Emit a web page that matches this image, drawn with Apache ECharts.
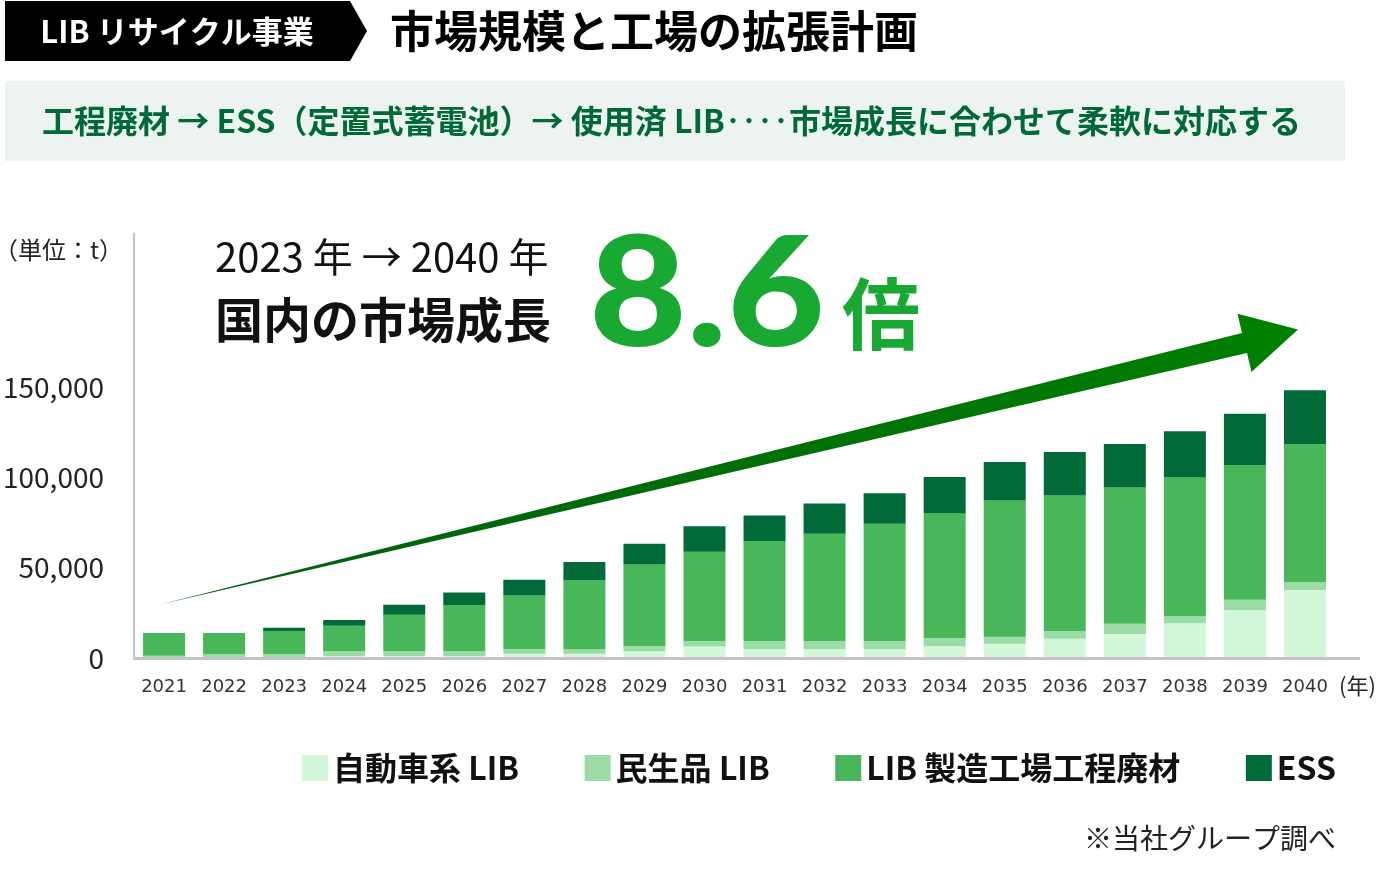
<!DOCTYPE html>
<html><head><meta charset="utf-8">
<script src="https://cdn.jsdelivr.net/npm/echarts@6/dist/echarts.min.js"></script>
<style>html,body{margin:0;padding:0;background:#fff}#c{width:1379px;height:894px}</style>
</head><body><div id="c"></div>
<script>
const years = ['2021','2022','2023','2024','2025','2026','2027','2028','2029','2030','2031','2032','2033','2034','2035','2036','2037','2038','2039','2040'];
const autoLIB = [0,0,0,1100,1100,1100,2400,2400,3700,6300,5000,5000,5000,6500,7900,10700,13300,19300,26500,37600];
const consumerLIB = [1200,2200,2200,2800,2800,2800,2600,2400,2800,3100,4400,4400,4400,4400,3900,4300,5700,3900,5700,4400];
const factoryScrap = [12700,11700,12800,13900,20000,25400,29600,38300,45300,49400,55400,59400,65000,69100,75400,75000,75400,76800,74600,76300];
const ess = [0,0,1700,3200,5600,7000,8700,10000,11500,14100,14100,16800,16800,20200,21300,24100,24100,25600,28500,30000];
const seriesNames = ['自動車系 LIB','民生品 LIB','LIB 製造工場工程廃材','ESS'];
const yTicks = [0,50000,100000,150000];

const FONT = '"Noto Sans CJK JP","Noto Sans",sans-serif';
const colors = ['#d3f7d9','#9bdca6','#47b75a','#006a39'];
const chart = echarts.init(document.getElementById('c'));
const mk = (name, data, i) => ({
  name, type:'bar', stack:'t', data, barWidth:42,
  itemStyle:{color:colors[i]}
});
chart.setOption({
  animation:false,
  grid:{left:133, right:44, top:233.6, bottom:236, containLabel:false},
  legend:{
    left:302, top:752, itemWidth:26, itemHeight:26, itemGap:65.5, icon:'rect', padding:0,
    textStyle:{fontFamily:FONT, fontSize:32, fontWeight:'bold', color:'#111'},
    data:seriesNames
  },
  xAxis:{
    type:'category', data:years,
    axisLine:{show:false}, axisTick:{show:false},
    axisLabel:{fontFamily:'"DejaVu Sans",sans-serif', fontSize:18, color:'#333', margin:20}
  },
  yAxis:{
    type:'value', min:0, max:235000, interval:50000,
    axisLine:{show:true, lineStyle:{color:'#c4c4c4', width:2}},
    axisTick:{show:false}, splitLine:{show:false},
    axisLabel:{fontFamily:FONT, fontSize:28, color:'#222', margin:30, padding:[0,0,8,0],
      formatter:v => yTicks.includes(v) ? v.toLocaleString('en-US') : ''}
  },
  series:[mk(seriesNames[0],autoLIB,0), mk(seriesNames[1],consumerLIB,1), mk(seriesNames[2],factoryScrap,2), mk(seriesNames[3],ess,3)],
  graphic:[
    {type:'line', shape:{x1:133, y1:658.5, x2:1360, y2:658.5}, style:{stroke:'#c4c4c4', lineWidth:3}, z:10},
    {type:'polygon', shape:{points:[[5,1],[350,1],[367,31],[350,61],[5,61]]}, style:{fill:'#000'}},
    {type:'text', x:177, y:31, style:{text:'LIB リサイクル事業', fill:'#fff', font:'bold 31px '+FONT, textAlign:'center', textVerticalAlign:'middle'}},
    {type:'text', x:390, y:31, style:{text:'市場規模と工場の拡張計画', fill:'#000', font:'bold 44px '+FONT, textAlign:'left', textVerticalAlign:'middle'}},
    {type:'rect', shape:{x:5, y:81, width:1340, height:80}, style:{fill:'#edf3f0'}},
    {type:'text', x:42, y:121, style:{text:'工程廃材 → ESS（定置式蓄電池）→ 使用済 LIB‥‥市場成長に合わせて柔軟に対応する', fill:'#006a37', font:'bold 32px '+FONT, textAlign:'left', textVerticalAlign:'middle'}},
    {type:'text', x:-6, y:250, style:{text:'（単位：t）', fill:'#222', font:'24px '+FONT, textAlign:'left', textVerticalAlign:'middle'}},
    {type:'text', x:215, y:257, style:{text:'2023 年 → 2040 年', fill:'#111', font:'40px '+FONT, textAlign:'left', textVerticalAlign:'middle'}},
    {type:'text', x:215, y:320, style:{text:'国内の市場成長', fill:'#111', font:'bold 48px '+FONT, textAlign:'left', textVerticalAlign:'middle'}},
    {type:'text', x:589, y:297, scaleX:1.11, style:{text:'8.6', fill:'#19a832', font:'900 152px Lato,"Noto Sans",sans-serif', textAlign:'left', textVerticalAlign:'middle'}},
    {type:'text', x:842, y:314, style:{text:'倍', fill:'#19a832', font:'bold 78px '+FONT, textAlign:'left', textVerticalAlign:'middle'}},
    {type:'polygon', shape:{points:[[160,604.5],[1242,333],[1237.5,313.7],[1298,329.5],[1251.5,372.1],[1247,353]]},
      style:{fill:{type:'linear', x:0, y:0, x2:1, y2:0, global:false, colorStops:[{offset:0,color:'#005c10'},{offset:1,color:'#008000'}]}}},
    {type:'text', x:1339, y:686, style:{text:'(年)', fill:'#222', font:'22px '+FONT, textAlign:'left', textVerticalAlign:'middle'}},
    {type:'text', x:1336, y:838, style:{text:'※当社グループ調べ', fill:'#222', font:'28px '+FONT, textAlign:'right', textVerticalAlign:'middle'}}
  ]
});
</script></body></html>
